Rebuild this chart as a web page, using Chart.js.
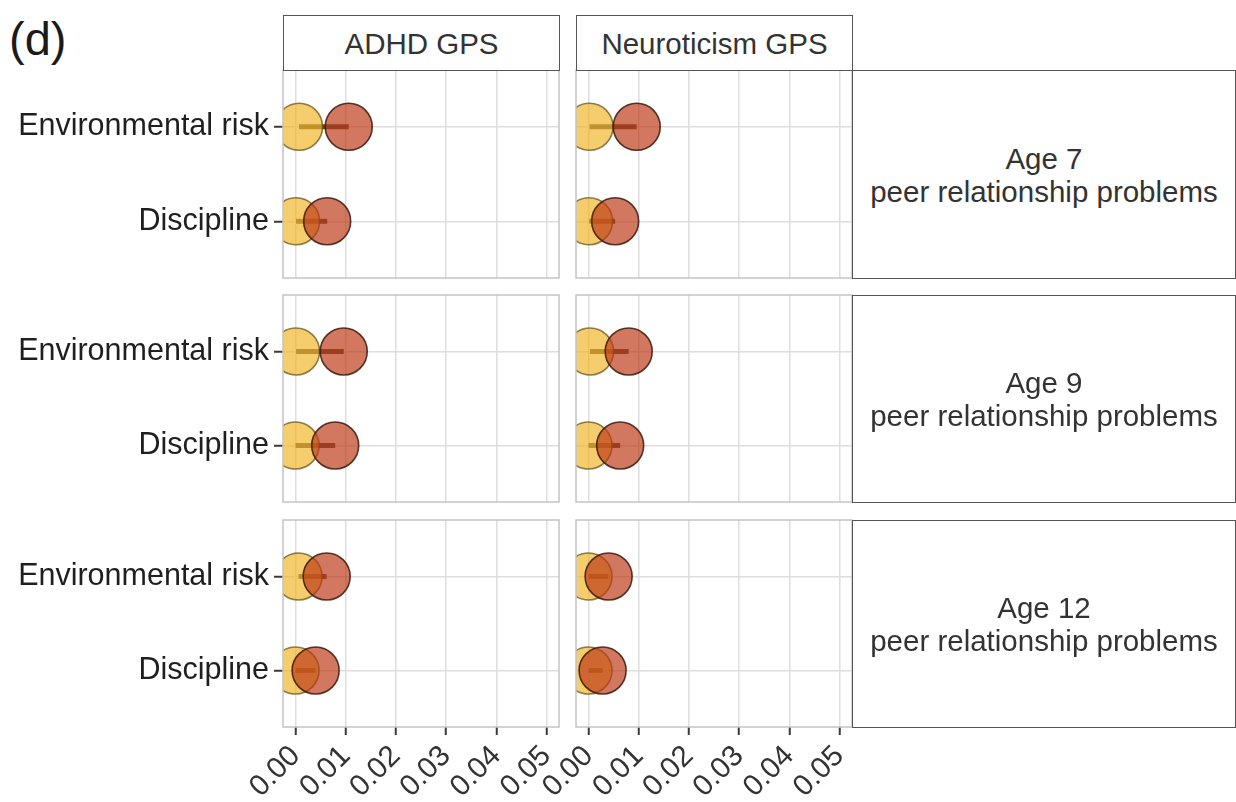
<!DOCTYPE html>
<html>
<head>
<meta charset="utf-8">
<script src="https://cdn.jsdelivr.net/npm/chart.js@4.4.1/dist/chart.umd.min.js"></script>
<style>
  html, body { margin: 0; padding: 0; background: #fff; }
  #fig { position: relative; width: 1236px; height: 802px; overflow: hidden;
         font-family: "Liberation Sans", Arial, Helvetica, sans-serif; }
  #tag { position: absolute; left: 9px; top: 12px; font-size: 47px; line-height: 54px; color: #1a1a1a; }
  .strip { position: absolute; box-sizing: border-box; border: 1.5px solid #555; background: #fff;
           color: #333; font-size: 29.5px; line-height: 33px; display: flex; align-items: center;
           justify-content: center; text-align: center; }
  canvas { position: absolute; }
</style>
</head>
<body>
<div id="fig"><div id="tag">(d)</div></div>
<script>
// ---- data ----
const categories = ['Environmental risk', 'Discipline'];
const xTicks = [0, 0.01, 0.02, 0.03, 0.04, 0.05];
const gpsLabels = ['ADHD GPS', 'Neuroticism GPS'];
const ageLabels = ['Age 7', 'Age 9', 'Age 12'];
const outcomeLabel = 'peer relationship problems';

// goldSeries[age][gps] = [Environmental risk, Discipline]
const goldSeries = [
  [[0.0007, 0.0001], [0.0002, 0.0001]],
  [[0.0001, 0.0000], [0.0003, 0.0000]],
  [[0.0006, 0.0000], [0.0000, 0.0000]]
];
const rustSeries = [
  [[0.0106, 0.0063], [0.0096, 0.0053]],
  [[0.0096, 0.0079], [0.0080, 0.0063]],
  [[0.0062, 0.0040], [0.0040, 0.0028]]
];

// ---- layout of the facet grid (pixels) ----
const colX = [[283, 559], [576, 852]];
const rowY = [[70, 278], [295, 502], [520, 727]];
const FIG_H = 802;
const PAD = 2;
const LABEL_ROOM = 50;   // extra room left of inner bottom panels for rotated tick labels
const FONT = "'Liberation Sans', Arial, Helvetica, sans-serif";

const fig = document.getElementById('fig');

// panel frame drawn over the data, like a ggplot panel border
const panelFrame = {
  id: 'panelFrame',
  afterDatasetsDraw(chart) {
    const a = chart.chartArea, ctx = chart.ctx;
    ctx.save();
    ctx.strokeStyle = '#c4c4c4';
    ctx.lineWidth = 1.5;
    ctx.strokeRect(a.left, a.top, a.right - a.left, a.bottom - a.top);
    ctx.restore();
  }
};

function makePanel(r, c) {
  const isLeft = c === 0, isBottom = r === rowY.length - 1;
  const yW = isLeft ? colX[c][0] - PAD : 0;
  const xH = isBottom ? FIG_H - rowY[r][1] - PAD : 0;
  const extraL = (isBottom && !isLeft) ? LABEL_ROOM : 0;
  const w = (colX[c][1] - colX[c][0]) + 2 * PAD + yW + extraL;
  const h = (rowY[r][1] - rowY[r][0]) + 2 * PAD + xH;

  const cv = document.createElement('canvas');
  cv.width = w; cv.height = h;
  cv.style.left = (colX[c][0] - PAD - yW - extraL) + 'px';
  cv.style.top = (rowY[r][0] - PAD) + 'px';
  cv.style.width = w + 'px'; cv.style.height = h + 'px';
  fig.appendChild(cv);

  const gold = goldSeries[r][c], rust = rustSeries[r][c];

  const segs = categories.map((_, i) => ({
    type: 'line',
    data: [{ x: gold[i], y: i + 1 }, { x: rust[i], y: i + 1 }],
    borderColor: 'rgba(55,32,8,0.8)',
    borderWidth: 5,
    borderCapStyle: 'butt',
    pointRadius: 0,
    clip: 0,
    order: 2
  }));

  new Chart(cv, {
    type: 'scatter',
    data: {
      datasets: [
        {
          data: categories.map((_, i) => ({ x: rust[i], y: i + 1 })),
          backgroundColor: 'rgba(188,56,20,0.68)',
          borderColor: 'rgba(60,25,12,0.85)',
          borderWidth: 1.6,
          pointRadius: 23.5,
          clip: 0,
          order: 0
        },
        {
          data: categories.map((_, i) => ({ x: gold[i], y: i + 1 })),
          backgroundColor: 'rgba(242,182,40,0.68)',
          borderColor: 'rgba(95,75,20,0.7)',
          borderWidth: 1.6,
          pointRadius: 23.5,
          clip: 0,
          order: 1
        },
        ...segs
      ]
    },
    options: {
      responsive: false,
      devicePixelRatio: 1,
      animation: false,
      events: [],
      layout: { padding: { left: PAD + extraL, right: PAD, top: PAD, bottom: PAD }, autoPadding: false },
      plugins: { legend: { display: false }, tooltip: { enabled: false } },
      scales: {
        x: {
          type: 'linear',
          min: -0.0025, max: 0.0525,
          bounds: 'data',
          afterBuildTicks: s => { s.ticks = xTicks.map(v => ({ value: v })); },
          afterFit: s => { s.height = xH; s.paddingLeft = 0; s.paddingRight = 0; },
          border: { display: false },
          grid: {
            color: '#dedede', lineWidth: 1.5,
            drawTicks: isBottom, tickLength: 8, tickColor: '#3a3a3a', tickWidth: 2
          },
          ticks: {
            display: isBottom,
            autoSkip: false,
            minRotation: 45, maxRotation: 45,
            padding: 4,
            color: '#333',
            font: { family: FONT, size: 29.5 },
            callback: v => Number(v).toFixed(2)
          }
        },
        y: {
          type: 'linear',
          reverse: true,
          min: 0.4, max: 2.6,
          bounds: 'data',
          afterBuildTicks: s => { s.ticks = categories.map((_, i) => ({ value: i + 1 })); },
          afterFit: s => { s.width = yW; s.paddingTop = 0; s.paddingBottom = 0; },
          border: { display: false },
          grid: {
            color: '#dedede', lineWidth: 1.5,
            drawTicks: isLeft, tickLength: 9, tickColor: '#3a3a3a', tickWidth: 2
          },
          ticks: {
            display: isLeft,
            padding: 5,
            color: '#1f1f1f',
            font: { family: FONT, size: 30.5 },
            callback: v => categories[Math.round(v) - 1]
          }
        }
      }
    },
    plugins: [panelFrame]
  });
}

function addStrip(left, top, width, height, html) {
  const d = document.createElement('div');
  d.className = 'strip';
  d.style.left = left + 'px'; d.style.top = top + 'px';
  d.style.width = width + 'px'; d.style.height = height + 'px';
  d.innerHTML = html;
  fig.appendChild(d);
}

for (let r = 0; r < rowY.length; r++)
  for (let c = 0; c < colX.length; c++) makePanel(r, c);

// column strips
gpsLabels.forEach((g, c) => addStrip(colX[c][0], 15, colX[c][1] - colX[c][0] + 1, 56, g));
// row strips
ageLabels.forEach((a, r) => addStrip(852, rowY[r][0], 1236 - 852, rowY[r][1] - rowY[r][0] + 1,
  a + '<br>' + outcomeLabel));
</script>
</body>
</html>
